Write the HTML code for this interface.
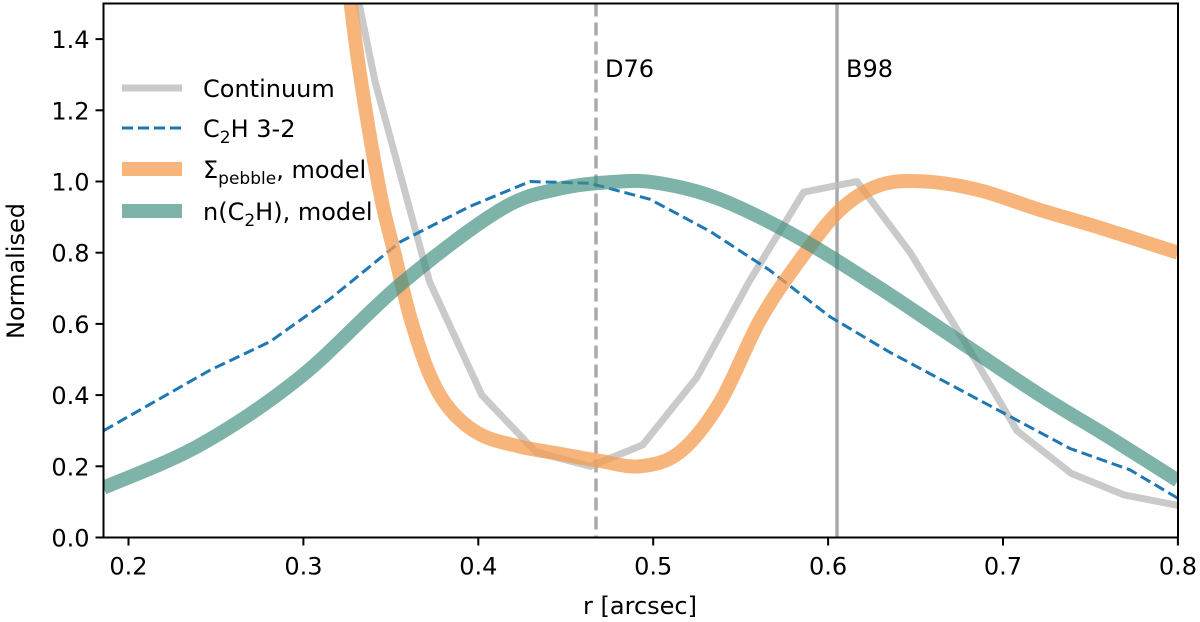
<!DOCTYPE html>
<html><head><meta charset="utf-8"><style>
html,body{margin:0;padding:0;background:#fff}
svg{display:block;font-family:"DejaVu Sans","Liberation Sans",sans-serif}
</style></head><body>
<svg id="chart" width="1200" height="622">
<defs><clipPath id="clip"><rect x="103.5" y="3.5" width="1074.5" height="534"/></clipPath></defs>
<g id="plot" clip-path="url(#clip)"></g>
<g id="axes"></g>
</svg>
<script>
const continuumR = [0.311,0.341,0.372,0.402,0.433,0.464,0.494,0.525,0.555,0.586,0.6165,0.647,0.678,0.708,0.739,0.769,0.8];
const continuumV = [2.0,1.28,0.72,0.40,0.24,0.20,0.26,0.45,0.72,0.97,1.0,0.80,0.55,0.30,0.18,0.12,0.09];
const c2hR = [0.1857,0.2466,0.2809,0.3152,0.3552,0.3952,0.4296,0.4639,0.4982,0.5325,0.5668,0.6011,0.6354,0.6697,0.704,0.7383,0.7726,0.8];
const c2hV = [0.30,0.47,0.55,0.67,0.83,0.93,1.0,0.995,0.95,0.86,0.75,0.62,0.52,0.43,0.34,0.25,0.19,0.11];
const pebbleR = [0.315,0.3238,0.3324,0.3438,0.352,0.361,0.3720,0.3838,0.4010,0.4240,0.4467,0.4696,0.4924,0.5153,0.5382,0.561,0.5839,0.6068,0.6297,0.6554,0.6869,0.7212,0.7555,0.8];
const pebbleV = [1.9,1.62,1.3,0.97,0.80,0.62,0.46,0.36,0.29,0.255,0.235,0.215,0.20,0.24,0.38,0.61,0.78,0.92,0.99,1.0,0.975,0.92,0.87,0.80];
const nc2hR = [0.1857,0.2409,0.2981,0.3552,0.4124,0.4467,0.481,0.5039,0.5382,0.5839,0.6297,0.6754,0.7212,0.7612,0.8];
const nc2hV = [0.14,0.26,0.45,0.71,0.92,0.98,1.0,0.995,0.95,0.84,0.70,0.55,0.40,0.28,0.16];
const xTicks = [0.2,0.3,0.4,0.5,0.6,0.7,0.8];
const yTicks = [0.0,0.2,0.4,0.6,0.8,1.0,1.2,1.4];
const markers = [{r:0.4673,label:"D76",dash:true},{r:0.6051,label:"B98",dash:false}];

const NS="http://www.w3.org/2000/svg";
const X0=103.5,X1=1178,Y0=537.5;
const sx=r=>128.5+(r-0.2)*1749;
const sy=v=>Y0-v*356;
const plot=document.getElementById('plot'), axes=document.getElementById('axes');
function mk(t,a,p){const e=document.createElementNS(NS,t);for(const k in a)e.setAttribute(k,a[k]);(p||plot).appendChild(e);return e;}
function smooth(R,V){const P=R.map((r,i)=>[sx(r),sy(V[i])]);let d=`M${P[0][0]},${P[0][1]}`;
 for(let i=0;i<P.length-1;i++){const p0=P[i-1]||P[i],p1=P[i],p2=P[i+1],p3=P[i+2]||p2;
 d+=` C${p1[0]+(p2[0]-p0[0])/6},${p1[1]+(p2[1]-p0[1])/6} ${p2[0]-(p3[0]-p1[0])/6},${p2[1]-(p3[1]-p1[1])/6} ${p2[0]},${p2[1]}`;}return d;}
function poly(R,V){return 'M'+R.map((r,i)=>sx(r)+','+sy(V[i])).join(' L');}

markers.forEach(m=>{
 const l=mk('line',{x1:sx(m.r),x2:sx(m.r),y1:3.5,y2:Y0,stroke:'#aaa','stroke-width':3.5,'stroke-dasharray':m.dash?'13,6':'none'});
 
 
 const t=mk('text',{x:sx(m.r)+9,y:77,'font-size':24,fill:'#000'});t.textContent=m.label;
 
 
});
let e;
e=mk('path',{d:poly(continuumR,continuumV),fill:'none',stroke:'#bdbdbd','stroke-opacity':0.8,'stroke-width':7,'stroke-linejoin':'round'});


e=mk('path',{d:poly(c2hR,c2hV),fill:'none',stroke:'#1f77b4','stroke-width':3,'stroke-dasharray':'11,5'});


e=mk('path',{d:smooth(pebbleR,pebbleV),fill:'none',stroke:'#f59c4f','stroke-opacity':0.75,'stroke-width':14});


e=mk('path',{d:smooth(nc2hR,nc2hV),fill:'none',stroke:'#3f8f80','stroke-opacity':0.68,'stroke-width':14});



mk('rect',{x:X0,y:3.5,width:X1-X0,height:Y0-3.5,fill:'none',stroke:'#000','stroke-width':2},axes);
xTicks.forEach(v=>{const x=sx(v);
 mk('line',{x1:x,x2:x,y1:Y0,y2:Y0+8,stroke:'#000','stroke-width':2},axes);
 const t=mk('text',{x:x,y:Y0+37,'font-size':24,'text-anchor':'middle'},axes);t.textContent=v.toFixed(1);
 
 });
yTicks.forEach(v=>{const y=sy(v);
 mk('line',{x1:X0-8,x2:X0,y1:y,y2:y,stroke:'#000','stroke-width':2},axes);
 const t=mk('text',{x:X0-14,y:y+9,'font-size':24,'text-anchor':'end'},axes);t.textContent=v.toFixed(1);
 
 });
</script>
<svg style="position:absolute;left:0;top:0" width="1200" height="622">
<text x="640" y="614" font-size="24" text-anchor="middle" font-family="DejaVu Sans,Liberation Sans,sans-serif">r [arcsec]</text>
<text transform="translate(24,271) rotate(-90)" font-size="24" text-anchor="middle" font-family="DejaVu Sans,Liberation Sans,sans-serif">Normalised</text>
<g font-family="DejaVu Sans,Liberation Sans,sans-serif" font-size="24">
<line x1="122" x2="182" y1="88" y2="88" stroke="#bdbdbd" stroke-opacity="0.8" stroke-width="7"/>
<text x="203" y="97">Continuum</text>
<line x1="122" x2="182" y1="128" y2="128" stroke="#1f77b4" stroke-width="3" stroke-dasharray="11,5"/>
<text x="203" y="137">C<tspan font-size="17" dy="6">2</tspan><tspan dy="-6">H 3-2</tspan></text>
<line x1="122" x2="182" y1="169" y2="169" stroke="#f59c4f" stroke-opacity="0.75" stroke-width="14"/>
<text x="203" y="178">Σ<tspan font-size="17" dy="6">pebble</tspan><tspan dy="-6">, model</tspan></text>
<line x1="122" x2="182" y1="211" y2="211" stroke="#3f8f80" stroke-opacity="0.68" stroke-width="14"/>
<text x="203" y="220">n(C<tspan font-size="17" dy="6">2</tspan><tspan dy="-6">H), model</tspan></text>
</g>
</svg>
</body></html>
